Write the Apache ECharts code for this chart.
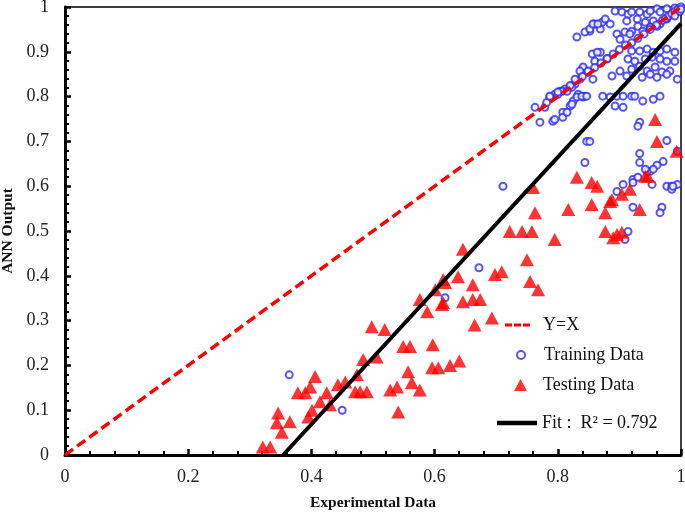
<!DOCTYPE html>
<html><head><meta charset="utf-8">
<script src="https://cdn.jsdelivr.net/npm/echarts@6/dist/echarts.min.js"></script>
<style>html,body{margin:0;padding:0;background:#fff}#c{width:685px;height:516px}</style>
</head><body><div id="c"></div>
<script>
const xTicks = [0, 0.2, 0.4, 0.6, 0.8, 1];
const yTicks = [0, 0.1, 0.2, 0.3, 0.4, 0.5, 0.6, 0.7, 0.8, 0.9, 1];
const trainingData = [
[0.893,0.991],[0.904,0.989],[0.914,0.984],[0.920,0.989],[0.933,0.989],[0.945,0.984],[0.950,0.991],[0.961,0.996],[0.966,0.989],[0.977,0.996],[0.990,0.998],
[0.860,0.962],[0.872,0.966],[0.877,0.973],[0.885,0.962],[0.869,0.951],[0.852,0.946],[0.844,0.944],[0.831,0.933],[0.852,0.951],[0.857,0.962],[0.865,0.962],
[0.912,0.969],[0.929,0.973],[0.942,0.966],[0.955,0.969],[0.966,0.962],[0.977,0.973],
[0.896,0.940],[0.909,0.944],[0.920,0.946],[0.930,0.957],[0.938,0.946],[0.950,0.955],[0.961,0.957],[0.901,0.928],[0.917,0.940],
[0.920,0.902],[0.933,0.902],[0.945,0.906],[0.955,0.899],[0.966,0.902],[0.977,0.906],[0.990,0.899],
[0.914,0.884],[0.925,0.879],[0.942,0.884],[0.953,0.888],[0.966,0.884],[0.977,0.879],[0.990,0.879],
[0.920,0.861],[0.933,0.868],[0.945,0.857],[0.958,0.866],[0.969,0.855],[0.982,0.857],
[0.937,0.843],[0.950,0.850],[0.961,0.843],[0.977,0.850],[0.994,0.839],
[0.856,0.895],[0.869,0.899],[0.860,0.879],[0.880,0.884],[0.841,0.861],[0.849,0.855],[0.857,0.839],[0.836,0.839],[0.828,0.828],[0.820,0.821],[0.812,0.817],[0.804,0.812],
[0.808,0.765],[0.820,0.779],[0.825,0.790],[0.833,0.801],[0.841,0.799],
[0.873,0.801],[0.885,0.799],[0.896,0.801],[0.906,0.801],[0.920,0.801],[0.925,0.801],[0.938,0.790],[0.955,0.794],[0.966,0.801],
[0.893,0.779],[0.906,0.776],[0.933,0.743],[0.930,0.734],[0.912,0.846],[0.888,0.846],[0.901,0.857],
[0.864,0.899],[0.841,0.866],[0.836,0.857],[0.828,0.839],[0.849,0.857],[0.823,0.821],[0.807,0.812],[0.795,0.805],[0.787,0.799],[0.844,0.801],[0.833,0.805],
[0.763,0.776],[0.779,0.776],[0.782,0.787],[0.787,0.801],[0.800,0.805],[0.815,0.812],[0.823,0.783],[0.831,0.799],[0.839,0.801],[0.847,0.801],
[0.771,0.743],[0.792,0.745],[0.795,0.749],[0.808,0.754],[0.815,0.765],[0.847,0.700],[0.852,0.700],[0.844,0.653],[0.711,0.600],
[0.977,0.702],[0.933,0.673],[0.933,0.653],[0.971,0.655],[0.961,0.647],[0.994,0.678],[0.950,0.633],[0.953,0.604],[0.977,0.600],[0.985,0.600],[0.994,0.604],
[0.896,0.588],[0.906,0.604],[0.922,0.615],[0.930,0.620],[0.945,0.633],[0.955,0.638],
[0.922,0.553],[0.969,0.553],[0.966,0.541],[0.914,0.499],[0.909,0.481],[0.985,0.593],
[0.922,0.608],[0.942,0.638],[0.987,0.600],
[0.364,0.179],[0.450,0.100],[0.617,0.351],[0.672,0.418],
[0.80,0.81],[0.82,0.825],[0.84,0.845],[0.86,0.865],[0.87,0.875],[0.88,0.885],[0.89,0.895],[0.90,0.905],[0.91,0.915],[0.92,0.92],[0.93,0.93],[0.94,0.94],[0.95,0.95],[0.96,0.96],[0.97,0.97],[0.975,0.975],[0.98,0.98],[0.985,0.985],[0.99,0.99],[0.995,0.995],[1,1],[0.998,0.99],[0.99,0.98],[1,0.995]
];
const testingData = [
[0.321,0.018],[0.333,0.018],[0.346,0.094],[0.344,0.072],[0.352,0.051],[0.365,0.074],[0.378,0.139],[0.390,0.139],[0.398,0.152],[0.406,0.175],[0.401,0.100],[0.395,0.085],[0.414,0.119],[0.425,0.139],[0.430,0.112],[0.443,0.157],[0.455,0.163],[0.471,0.141],[0.479,0.141],[0.490,0.141],[0.474,0.179],[0.484,0.213],[0.506,0.219],[0.498,0.286],[0.519,0.280],[0.528,0.145],[0.539,0.152],[0.541,0.096],[0.549,0.242],[0.560,0.242],[0.557,0.186],[0.563,0.161],[0.576,0.145],[0.576,0.347],[0.588,0.320],[0.597,0.246],[0.596,0.195],[0.606,0.195],[0.612,0.336],[0.601,0.369],[0.614,0.392],
[0.617,0.385],[0.614,0.340],[0.625,0.200],[0.640,0.210],[0.665,0.290],[0.638,0.398],[0.646,0.459],[0.662,0.380],[0.646,0.342],[0.662,0.347],[0.674,0.347],[0.693,0.306],[0.698,0.403],[0.709,0.409],[0.722,0.499],[0.742,0.499],[0.758,0.499],[0.750,0.436],[0.755,0.387],[0.768,0.369],[0.760,0.597],[0.763,0.541],[0.795,0.481],[0.817,0.548],[0.831,0.620],[0.855,0.608],[0.864,0.600],[0.855,0.559],[0.877,0.541],[0.888,0.570],[0.904,0.582],[0.917,0.593],[0.942,0.622],[0.946,0.622],[0.933,0.548],[0.877,0.499],[0.896,0.492],[0.904,0.497],[0.890,0.485],[0.958,0.749],[0.961,0.700],[0.993,0.678],[0.885,0.566]
];
const yEqualsX = [[0,0],[1,1]];
const fitLine = [[0.354,0],[1,0.963]];
const seriesNames = ['Y=X', 'Training Data', 'Testing Data', 'Fit :  R² = 0.792'];

const FONT = '"Liberation Serif", "Times New Roman", serif';
const chart = echarts.init(document.getElementById('c'), null, {renderer:'canvas'});
function legendBox(item, left, top, w, h, pad) {
  return {
    data: [item], orient: 'vertical', left: left, top: top, padding: 0,
    itemWidth: w, itemHeight: h, selectedMode: false,
    textStyle: {fontFamily: FONT, fontSize: 18, color: '#111', padding:[0,0,0,pad]}
  };
}
chart.setOption({
  animation: false,
  backgroundColor: '#fff',
  grid: {left: 65, right: 4, top: 7, bottom: 61, show: true, borderColor: '#000', borderWidth: 1.5,
         containLabel: false, outerBoundsMode: 'none'},
  legend: [
    legendBox({name: seriesNames[0], icon: 'path://M0,0h7v3h-7zM9,0h7v3h-7zM18,0h7v3h-7z'}, 505, 316, 25, 3.5, 8),
    legendBox({name: seriesNames[1], icon: 'emptyCircle'}, 516, 346, 8, 8, 14),
    legendBox({name: seriesNames[2], icon: 'triangle'}, 514, 376, 13, 12, 11),
    legendBox({name: seriesNames[3], icon: 'rect'}, 497, 414, 40, 4.5, 0)
  ],
  xAxis: {
    type: 'value', min: 0, max: 1, interval: 0.2,
    name: 'Experimental Data', nameLocation: 'middle', nameGap: 40,
    nameTextStyle: {fontFamily: FONT, fontSize: 15.5, fontWeight: 'bold', color: '#111'},
    axisLine: {show: true, onZero: false, lineStyle: {color: '#000', width: 3}},
    axisTick: {show: true, inside: true, length: 6, lineStyle: {color: '#000', width: 2.5}},
    minorTick: {show: true, splitNumber: 5, length: 4, lineStyle: {color: '#000', width: 2}},
    axisLabel: {fontFamily: FONT, fontSize: 18, color: '#222', margin: 13},
    splitLine: {show: false}
  },
  yAxis: {
    type: 'value', min: 0, max: 1, interval: 0.1,
    name: 'ANN Output', nameLocation: 'middle', nameGap: 47,
    nameTextStyle: {fontFamily: FONT, fontSize: 15.5, fontWeight: 'bold', color: '#111'},
    axisLine: {show: true, onZero: false, lineStyle: {color: '#000', width: 3}},
    axisTick: {show: true, inside: true, length: 6, lineStyle: {color: '#000', width: 2.5}},
    minorTick: {show: true, splitNumber: 5, length: 4, lineStyle: {color: '#000', width: 2}},
    axisLabel: {fontFamily: FONT, fontSize: 18, color: '#222', margin: 16},
    splitLine: {show: false}
  },
  series: [
    {name: seriesNames[1], type: 'scatter', data: trainingData, symbol: 'emptyCircle', symbolSize: 7,
     itemStyle: {color: '#2a2af0', borderColor: '#2a2af0', borderWidth: 1}, z: 2},
    {name: seriesNames[2], type: 'scatter', data: testingData, symbol: 'triangle', symbolSize: [14, 13],
     itemStyle: {color: '#ff0000'}, z: 3},
    {name: seriesNames[3], type: 'line', data: fitLine, showSymbol: false, symbol: 'none',
     lineStyle: {color: '#000', width: 4}, itemStyle: {color: '#000'}, z: 4},
    {name: seriesNames[0], type: 'line', data: yEqualsX, showSymbol: false, symbol: 'none',
     lineStyle: {color: '#ff0000', width: 3.5, type: [10, 5]}, itemStyle: {color: '#ff0000'}, z: 5}
  ]
});
</script></body></html>
